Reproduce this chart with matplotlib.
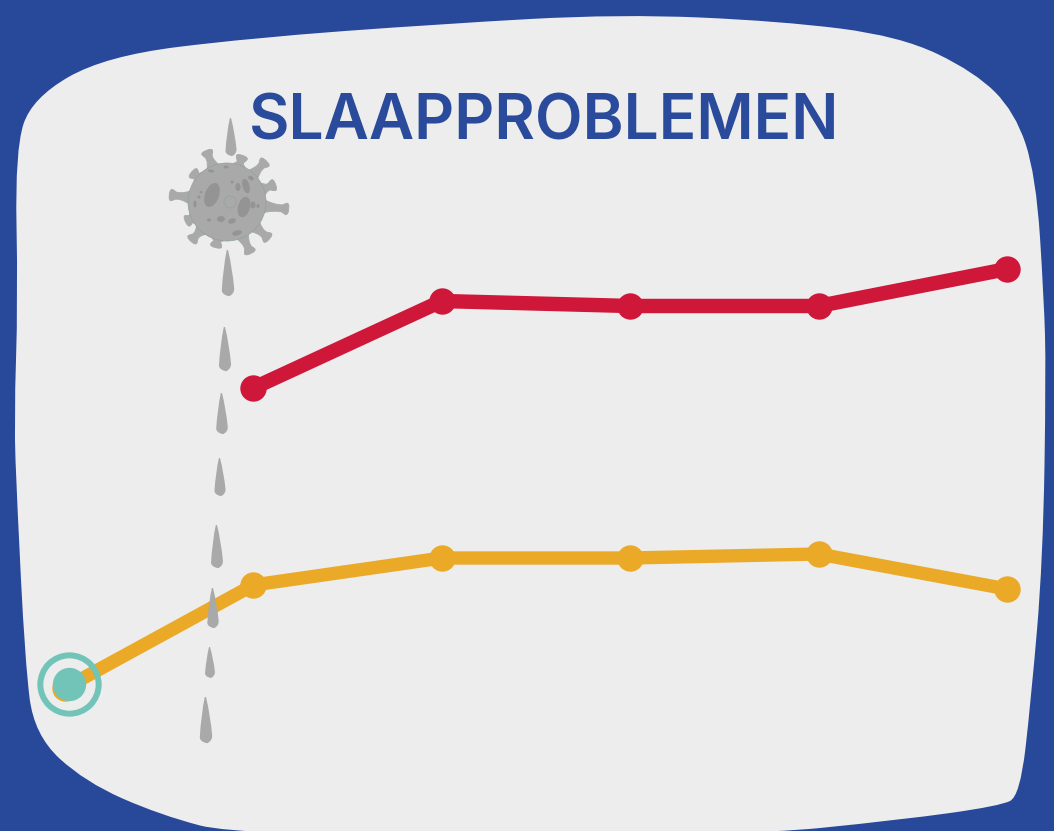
import numpy as np
import matplotlib
matplotlib.use("Agg")
import matplotlib.pyplot as plt
from matplotlib.patches import Circle, Ellipse, PathPatch
from matplotlib.path import Path

title = "SLAAPPROBLEMEN"
red_x = [1, 2, 3, 4, 5]
red_values = [41.2, 49.9, 49.4, 49.4, 53.1]
orange_x = [0, 1, 2, 3, 4, 5]
orange_values = [11.2, 21.5, 24.2, 24.2, 24.6, 21.1]
highlight_x = [0.02]
highlight_values = [11.6]

# blob outline, pixels
blob = [(105, 56), (250, 38), (440, 24), (620, 14), (780, 21), (900, 36), (975, 72),
        (1015, 112), (1036, 175), (1044, 300), (1046, 370), (1043, 560), (1031, 700),
        (1020, 796), (1000, 806), (900, 820), (740, 836), (240, 836), (160, 815),
        (85, 782), (34, 735), (25, 660), (17, 500), (14, 420), (18, 300), (15, 150),
        (32, 98)]

# dashed covid line: x, top y, bottom y
drops = [(231, 118, 155), (228, 250, 295), (225, 327, 370), (222, 393, 433),
         (220, 458, 495), (217, 525, 567), (213, 588, 627), (210, 647, 677),
         (206, 697, 742)]

# virus spike tips relative to the centre
spikes = [(-20, -50), (15, -45), (38, -40), (47, -17), (60, 7), (41, 36), (23, 50),
          (-11, 44), (-35, 38), (-40, 19), (-56, -7), (-34, -29)]
craters = [(-15, -7, 14, 25, 20), (17, 5, 12, 21, 15), (19, -16, 7, 15, -15),
           (11, -15, 5, 8, 0), (-6, 17, 8, 6, 0), (5, 19, 8, 5, -20), (10, 31, 10, 5, -15),
           (-16, -31, 6, 3, 10), (-1, -35, 5, 3, 0), (24, -24, 6, 4, 30), (26, 3, 5, 7, 0),
           (-32, 2, 3, 7, 0), (-18, 18, 4, 3, 0), (31, 4, 3, 4, 0), (5, -20, 3, 3, 0),
           (-28, -5, 3, 3, 0), (-26, -10, 3, 2, 0)]

BG = "#284899"
PANEL = "#ededed"
RED = "#cf1739"
ORANGE = "#eba928"
TEAL = "#72c4b8"
GREY = "#a9a9a9"


def rounded_path(points):
    """Closed smooth path through the points using quadratic segments."""
    pts = np.array(points, dtype=float)
    mids = (pts + np.roll(pts, -1, axis=0)) / 2
    verts = [mids[-1]]
    codes = [Path.MOVETO]
    for p, m in zip(pts, mids):
        verts += [p, m]
        codes += [Path.CURVE3, Path.CURVE3]
    return Path(verts, codes)


def drop_path(x, top, bottom):
    h = bottom - top
    w = 2.4 + h * 0.085
    verts = [(x, top), (x + w * 0.7, top + h * 0.4), (x + w, bottom - w), (x + w, bottom - w * 0.2),
             (x + w * 0.2, bottom + w * 0.2), (x - w * 0.9, bottom), (x - w, bottom - w * 0.7),
             (x - w * 0.8, top + h * 0.4), (x - w * 0.2, top), (x, top)]
    codes = [Path.MOVETO, Path.CURVE3, Path.CURVE3, Path.CURVE3, Path.CURVE3, Path.CURVE3,
             Path.CURVE3, Path.CURVE3, Path.CURVE3, Path.LINETO]
    return Path(verts, codes)


def spike_path(cx, cy, radius, dx, dy):
    length = np.hypot(dx, dy)
    ux, uy = dx / length, dy / length
    px, py = -uy, ux
    profile = [(radius - 4, 8), (radius + 1, 5), (length - 6, 2.6), (length - 2, 5.5),
               (length + 1, 6), (length + 2, 0), (length + 1, -6), (length - 2, -5.5),
               (length - 6, -2.6), (radius + 1, -5), (radius - 4, -8)]
    pts = [(cx + ux * a + px * b, cy + uy * a + py * b) for a, b in profile]
    return rounded_path(pts)


def draw_virus(ax, cx, cy, radius):
    for dx, dy in spikes:
        ax.add_patch(PathPatch(spike_path(cx, cy, radius, dx, dy), fc=GREY, ec=GREY, lw=0.6, zorder=4))
    ax.add_patch(Circle((cx, cy), radius, fc=GREY, ec="#8fa3a0", lw=0.5, zorder=5))
    for dx, dy, w, h, angle in craters:
        ax.add_patch(Ellipse((cx + dx, cy + dy), w, h, angle=angle, fc="#949494", ec="none", zorder=6))
    ax.add_patch(Circle((cx + 3, cy), 6, fc="none", ec="#8fa3a0", lw=0.5, zorder=6))


fig = plt.figure(figsize=(10.54, 8.31), dpi=100, facecolor=BG)

deco = fig.add_axes([0, 0, 1, 1])
deco.set_xlim(0, 1054)
deco.set_ylim(831, 0)
deco.axis("off")
deco.add_patch(PathPatch(rounded_path(blob), fc=PANEL, ec="none", zorder=1))

ax = fig.add_axes([0, 0, 1, 1], facecolor="none")
step = 188.4
ax.set_xlim(-65 / step, (1054 - 65) / step)
ax.set_ylim(-3.1, 80)
ax.axis("off")
ax.plot(red_x, red_values, color=RED, lw=10.4, marker="o", ms=19, mew=0, solid_capstyle="round")
ax.plot(orange_x, orange_values, color=ORANGE, lw=9.6, marker="o", ms=19, mew=0, solid_capstyle="round")
ax.plot(highlight_x, highlight_values, ls="none", marker="o", ms=24, mew=0, color=TEAL, zorder=5)
ax.plot(highlight_x, highlight_values, ls="none", marker="o", ms=42, mew=4.3, mfc="none", mec=TEAL, zorder=5)

top = fig.add_axes([0, 0, 1, 1], facecolor="none")
top.set_xlim(0, 1054)
top.set_ylim(831, 0)
top.axis("off")
for x, y0, y1 in drops:
    top.add_patch(PathPatch(drop_path(x, y0, y1), fc=GREY, ec="none", zorder=3))
draw_virus(top, 227, 202, 39)
top.text(544, 123, title, ha="center", va="center", color="#2a4b9b", fontsize=44.8,
         family="Inter", fontweight="semibold")

plt.savefig("out.png", dpi=100, facecolor=BG)
plt.close()
